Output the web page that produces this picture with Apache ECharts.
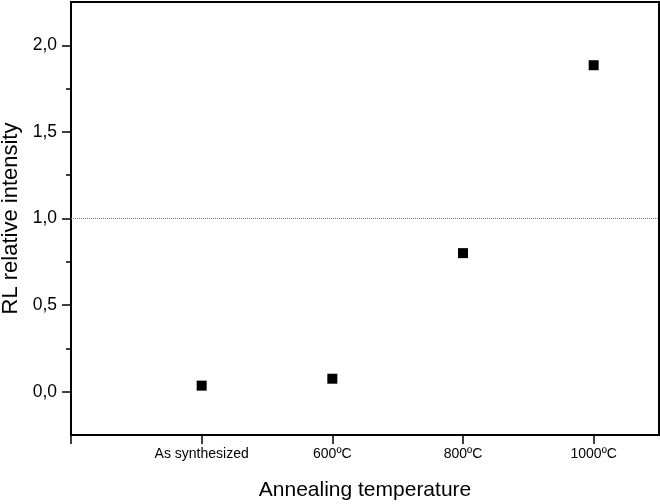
<!DOCTYPE html>
<html>
<head>
<meta charset="utf-8">
<script src="https://cdn.jsdelivr.net/npm/echarts@6/dist/echarts.min.js"></script>
<style>
  html, body { margin: 0; padding: 0; background: #fff; }
  #main { width: 660px; height: 504px; }
</style>
</head>
<body>
<div id="main"></div>
<script>
const chart = echarts.init(document.querySelector('#main'));

// 資料
const categories = ['As synthesized', '600ºC', '800ºC', '1000ºC'];
const intensity = [0.035, 0.075, 0.80, 1.885];
const yMajorTicks = [0, 0.5, 1.0, 1.5, 2.0];
const yMinorTicks = [0.25, 0.75, 1.25, 1.75];
const referenceLevel = 1.0;

const font = 'Liberation Sans, Arial, sans-serif';
const points = categories.map((c, i) => [i + 1, intensity[i]]);

let option = {
    animation: false,
    backgroundColor: '#fff',
    grid: {
        left: 71, right: 1, top: 2, bottom: 69,
        show: true, borderColor: '#000', borderWidth: 2,
        outerBoundsMode: 'none'
    },
    xAxis: {
        type: 'value',
        min: 0, max: 4.5,
        name: 'Annealing temperature',
        nameLocation: 'middle',
        nameGap: 45,
        nameTextStyle: { fontFamily: font, fontSize: 21, color: '#000' },
        axisLine: { onZero: false, lineStyle: { color: '#000', width: 2 } },
        axisTick: { customValues: [0, 1, 2, 3, 4], length: 9, lineStyle: { color: '#000', width: 1.5 } },
        axisLabel: {
            customValues: [1, 2, 3, 4],
            margin: 12,
            fontFamily: font, fontSize: 14, color: '#000',
            formatter: (v) => categories[Math.round(v) - 1] || ''
        },
        splitLine: { show: false }
    },
    yAxis: [
        {
            type: 'value',
            min: -0.25, max: 2.25,
            name: 'RL relative intensity',
            nameLocation: 'middle',
            nameGap: 47,
            nameTextStyle: { fontFamily: font, fontSize: 22, color: '#000' },
            axisLine: { onZero: false, lineStyle: { color: '#000', width: 2 } },
            axisTick: { customValues: yMajorTicks, length: 9, lineStyle: { color: '#000', width: 1.5 } },
            axisLabel: {
                customValues: yMajorTicks,
                margin: 14,
                fontFamily: font, fontSize: 17.5, color: '#000',
                formatter: (v) => v.toFixed(1).replace('.', ',')
            },
            splitLine: { show: false }
        },
        {
            type: 'value',
            min: -0.25, max: 2.25,
            position: 'left',
            axisLine: { show: false, onZero: false },
            axisTick: { customValues: yMinorTicks, length: 5, lineStyle: { color: '#000', width: 1.5 } },
            axisLabel: { show: false },
            splitLine: { show: false }
        }
    ],
    series: [
        {
            type: 'scatter',
            yAxisIndex: 0,
            symbol: 'rect',
            symbolSize: 10,
            itemStyle: { color: '#000', opacity: 1 },
            data: points,
            markLine: {
                silent: true,
                symbol: 'none',
                label: { show: false },
                lineStyle: { color: '#777', type: 'dotted', width: 1 },
                data: [{ yAxis: referenceLevel }]
            }
        }
    ]
};
chart.setOption(option);
</script>
</body>
</html>
